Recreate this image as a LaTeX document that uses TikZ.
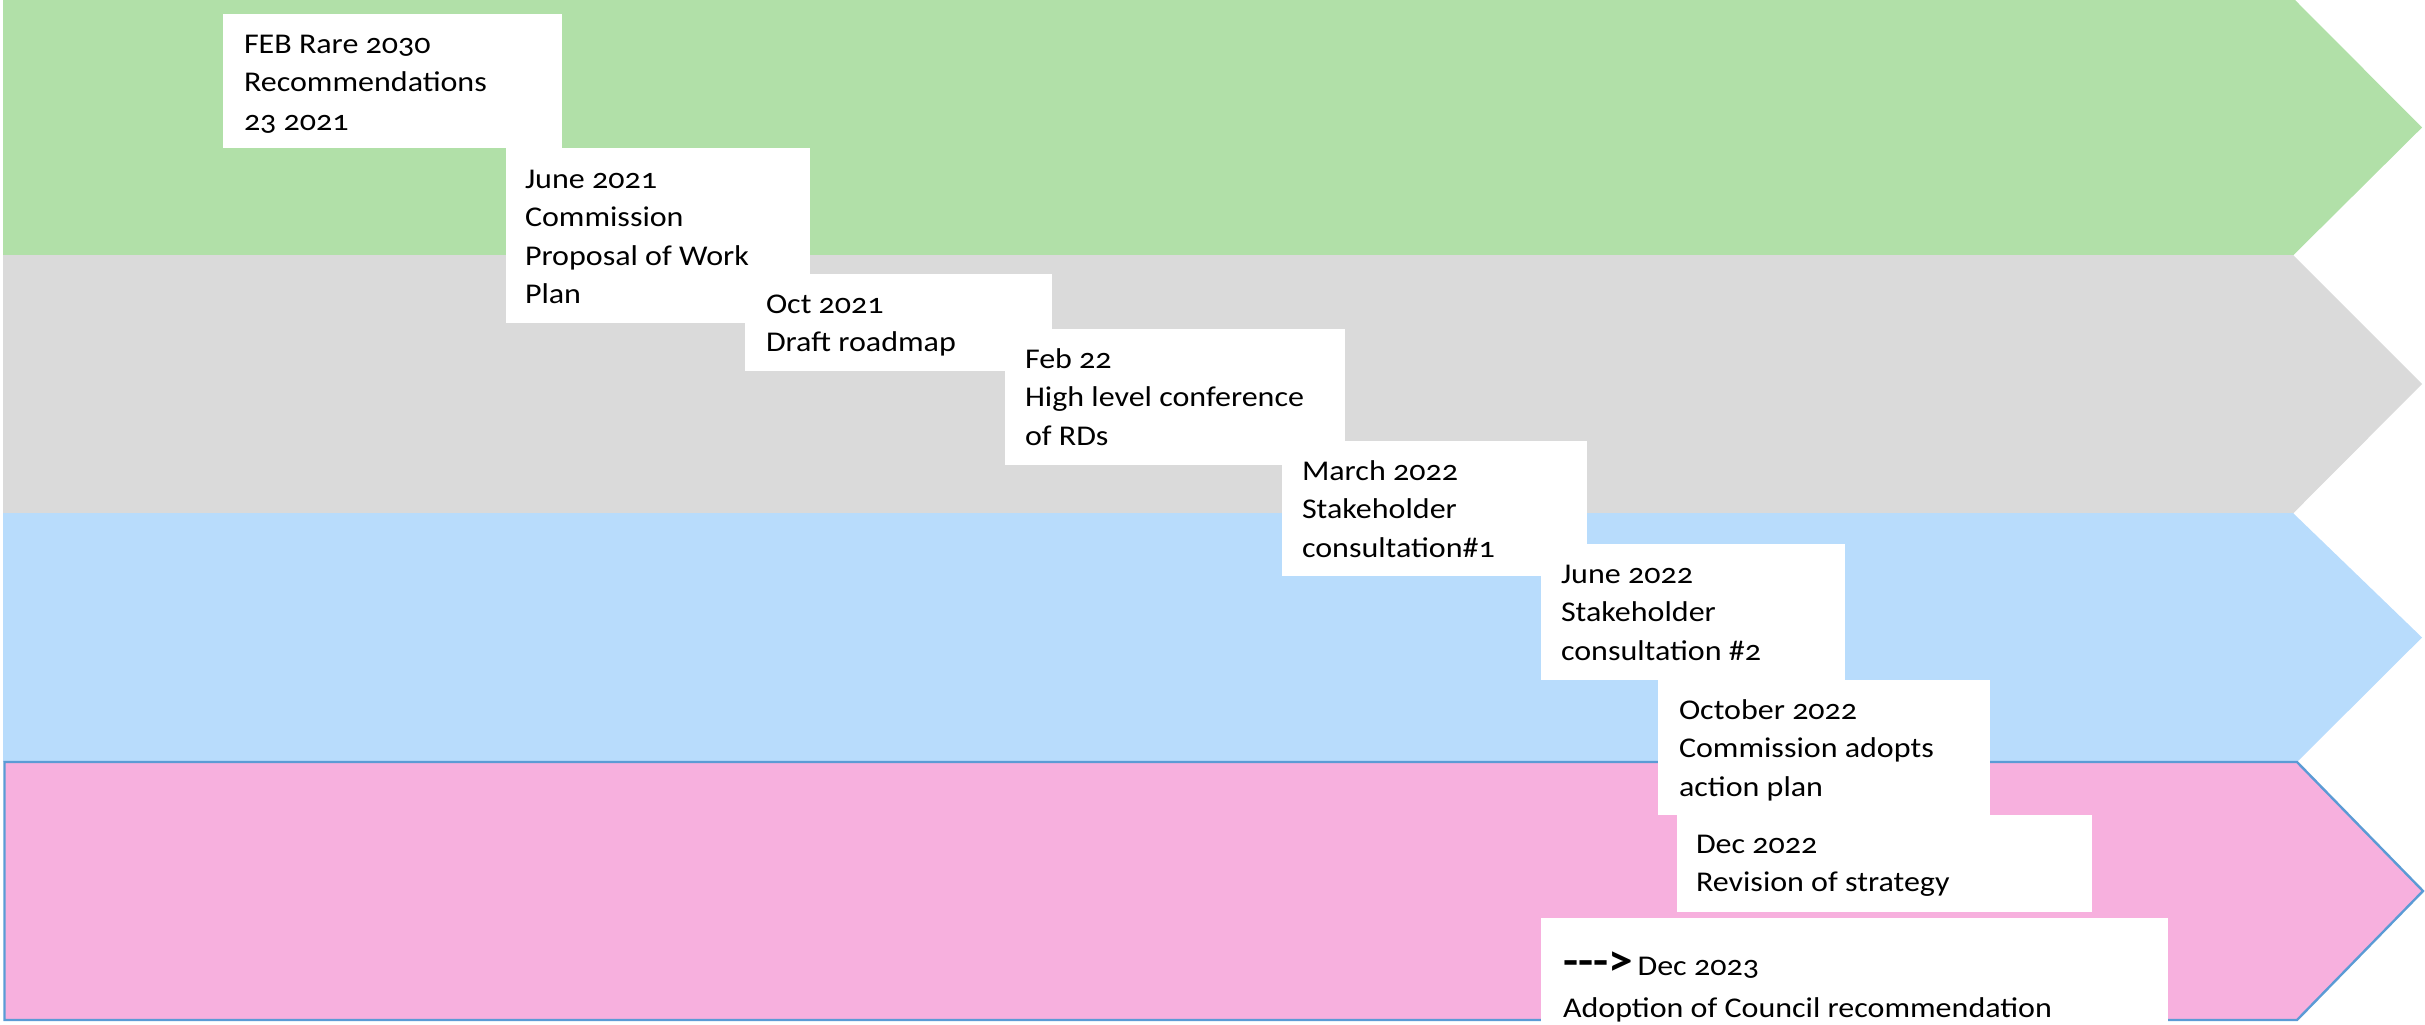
\documentclass[tikz,border=0pt]{standalone}
\usepackage{fontspec}
\setmainfont{Carlito}[Numbers=OldStyle, FakeStretch=1.12]
\definecolor{greenband}{HTML}{B1E0A8}
\definecolor{greyband}{HTML}{DADADA}
\definecolor{blueband}{HTML}{B8DCFC}
\definecolor{pinkband}{HTML}{F7B0DE}
\definecolor{pinkedge}{HTML}{5B9BD5}
\newcommand\evfont{\fontsize{14.3}{19.25}\selectfont}
\newcommand\evlines[1]{\begin{tabular}[t]{@{}l@{}}#1\end{tabular}}
\begin{document}
\begin{tikzpicture}[x=0.5pt,y=-0.5pt,
  evbox/.style={fill=white,draw=none},
  evtext/.style={anchor=base west,inner sep=0pt,outer sep=0pt,font=\evfont}]
\useasboundingbox (0,0) rectangle (2425,1024);
\clip (0,0) rectangle (2425,1024);
% bands
\fill[greenband] (3,-2) -- (2293,-2) -- (2422,127.5) -- (2293,255.5) -- (3,255.5) -- cycle;
\fill[greyband] (3,255) -- (2293,255) -- (2422,384) -- (2293,513.5) -- (3,513.5) -- cycle;
\fill[blueband] (3,513) -- (2293,513) -- (2422,637.5) -- (2297,762) -- (3,762) -- cycle;
\filldraw[fill=pinkband,draw=pinkedge,line width=1.2pt] (4.5,762) -- (2297,762) -- (2423,891) -- (2297,1020) -- (4.5,1020) -- cycle;
% event boxes
\fill[evbox] (223,14) rectangle (562,148);
\node[evtext] (e1) at (244,53) {\evlines{FEB Rare 2030\\Recommendations\\23 2021}};
\fill[evbox] (506,148) rectangle (810,323);
\node[evtext] (e2) at (525,188) {\evlines{June 2021\\Commission\\Proposal of Work\\Plan}};
\fill[evbox] (745,274) rectangle (1052,371);
\node[evtext] (e3) at (766,313) {\evlines{Oct 2021\\Draft roadmap}};
\fill[evbox] (1005,329) rectangle (1345,465);
\node[evtext] (e4) at (1025,368) {\evlines{Feb 22\\High level conference\\of RDs}};
\fill[evbox] (1282,441) rectangle (1587,576);
\node[evtext] (e5) at (1302,480) {\evlines{March 2022\\Stakeholder\\consultation\#1}};
\fill[evbox] (1541,544) rectangle (1845,680);
\node[evtext] (e6) at (1561,583) {\evlines{June 2022\\Stakeholder\\consultation \#2}};
\fill[evbox] (1658,680) rectangle (1990,815);
\node[evtext] (e7) at (1679,719) {\evlines{October 2022\\Commission adopts\\action plan}};
\fill[evbox] (1677,815) rectangle (2092,912);
\node[evtext] (e8) at (1696,853) {\evlines{Dec 2022\\Revision of strategy}};
\fill[evbox] (1541,918) rectangle (2168,1040);
\node[evtext] (e9) at (1563,975) {\evlines{{\fontsize{22}{19.25}\selectfont\bfseries -{}-{}->}\,Dec 2023\\[1.75pt]Adoption of Council recommendation}};
\end{tikzpicture}
\end{document}
